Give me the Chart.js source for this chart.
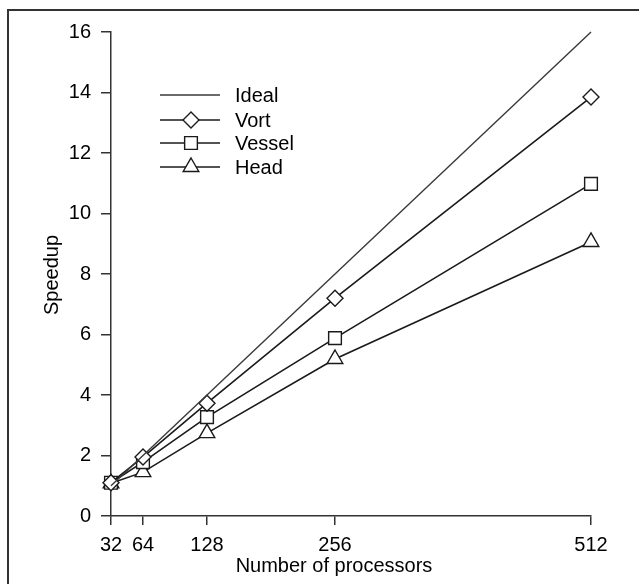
<!DOCTYPE html>
<html lang="en">
<head>
    <meta charset="UTF-8">
    <title>Speedup vs processors</title>
    <script src="https://cdn.jsdelivr.net/npm/chart.js"></script>
    <style>
        body {
            margin: 0;
            padding: 0;
            background: #ffffff;
        }

        .chart-box {
            width: 639px;
            height: 584px;
        }
    </style>
</head>
<body>
    <div class="chart-box">
        <canvas id="speedupChart" width="639" height="584"></canvas>
    </div>

    <script>
        // values
        const processors = [32, 64, 128, 256, 512];
        const ideal = [1, 2, 4, 8, 16];
        const vort = [1.1, 1.95, 3.73, 7.2, 13.85];
        const vessel = [1.1, 1.78, 3.27, 5.88, 10.98];
        const head = [1.08, 1.45, 2.74, 5.19, 9.06];
        const yTicks = [0, 2, 4, 6, 8, 10, 12, 14, 16];

        const FONT = 'Liberation Sans, Arial, Helvetica, sans-serif';
        const INK = '#1a1a1a';

        function toPoints(ys) {
            return processors.map((x, i) => ({ x: x, y: ys[i] }));
        }

        function series(label, ys, style, radius, color, width) {
            return {
                label: label,
                data: toPoints(ys),
                borderColor: color,
                borderWidth: width,
                backgroundColor: '#ffffff',
                pointStyle: style,
                pointRadius: radius,
                pointBorderWidth: 1.4,
                pointBorderColor: INK,
                pointBackgroundColor: '#ffffff',
                tension: 0,
                clip: false
            };
        }

        // legend drawn inside plot, line with marker in the middle
        const sampleLegend = {
            id: 'sampleLegend',
            afterDraw(chart) {
                const ctx = chart.ctx;
                const rows = [95, 120, 143, 167];
                ctx.save();
                chart.data.datasets.forEach((ds, i) => {
                    const y = rows[i];
                    ctx.strokeStyle = ds.borderColor;
                    ctx.lineWidth = ds.borderWidth;
                    ctx.beginPath();
                    ctx.moveTo(160, y);
                    ctx.lineTo(220, y);
                    ctx.stroke();
                    if (ds.pointStyle) {
                        ctx.fillStyle = '#ffffff';
                        ctx.strokeStyle = INK;
                        ctx.lineWidth = 1.4;
                        Chart.helpers.drawPoint(ctx, {
                            pointStyle: ds.pointStyle,
                            radius: ds.pointRadius,
                            rotation: 0,
                            borderWidth: 1.4
                        }, 191, y);
                    }
                    ctx.fillStyle = '#000';
                    ctx.font = '20px ' + FONT;
                    ctx.textAlign = 'left';
                    ctx.textBaseline = 'middle';
                    ctx.fillText(ds.label, 235, y + 1);
                });
                ctx.restore();
            }
        };

        // axis titles and the frame of the scanned figure
        const frameAndTitles = {
            id: 'frameAndTitles',
            beforeDraw(chart) {
                const ctx = chart.ctx;
                ctx.save();
                ctx.fillStyle = '#ffffff';
                ctx.fillRect(0, 0, chart.width, chart.height);
                ctx.strokeStyle = '#333';
                ctx.lineWidth = 2;
                ctx.beginPath();
                ctx.moveTo(8, chart.height);
                ctx.lineTo(8, 10);
                ctx.lineTo(chart.width, 10);
                ctx.stroke();
                ctx.restore();
            },
            afterDraw(chart) {
                const ctx = chart.ctx;
                ctx.save();
                ctx.fillStyle = '#000';
                ctx.font = '20px ' + FONT;
                ctx.textAlign = 'center';
                ctx.textBaseline = 'middle';
                ctx.fillText('Number of processors', 334, 566);
                ctx.translate(52, 275);
                ctx.rotate(-Math.PI / 2);
                ctx.fillText('Speedup', 0, 0);
                ctx.restore();
            }
        };

        const speedupChart = new Chart(document.getElementById('speedupChart').getContext('2d'), {
            type: 'line',
            data: {
                datasets: [
                    series('Ideal', ideal, false, 0, '#3a3a3a', 1.4),
                    series('Vort', vort, 'rectRot', 8, INK, 1.6),
                    series('Vessel', vessel, 'rect', 9, INK, 1.6),
                    series('Head', head, 'triangle', 9, INK, 1.6)
                ]
            },
            options: {
                responsive: false,
                animation: false,
                layout: {
                    padding: { left: 10, top: 32, right: 48, bottom: 0 }
                },
                plugins: {
                    legend: { display: false },
                    tooltip: { enabled: false }
                },
                scales: {
                    x: {
                        type: 'linear',
                        min: 32,
                        max: 512,
                        afterBuildTicks: (scale) => {
                            scale.ticks = processors.map(v => ({ value: v }));
                        },
                        afterFit: (scale) => {
                            scale.height = 68;
                        },
                        grid: {
                            drawOnChartArea: false,
                            tickLength: 9,
                            color: '#333',
                            lineWidth: 1.5
                        },
                        border: { display: true, color: '#333', width: 1.5 },
                        ticks: {
                            color: '#000',
                            padding: 8,
                            maxRotation: 0,
                            autoSkip: false,
                            font: { family: FONT, size: 20 }
                        }
                    },
                    y: {
                        min: 0,
                        max: 16,
                        afterBuildTicks: (scale) => {
                            scale.ticks = yTicks.map(v => ({ value: v }));
                        },
                        afterFit: (scale) => {
                            scale.width = 101;
                        },
                        grid: {
                            drawOnChartArea: false,
                            tickLength: 10,
                            color: '#333',
                            lineWidth: 1.5
                        },
                        border: { display: true, color: '#333', width: 1.5 },
                        ticks: {
                            color: '#000',
                            padding: 10,
                            font: { family: FONT, size: 20 }
                        }
                    }
                }
            },
            plugins: [frameAndTitles, sampleLegend]
        });
    </script>
</body>
</html>
